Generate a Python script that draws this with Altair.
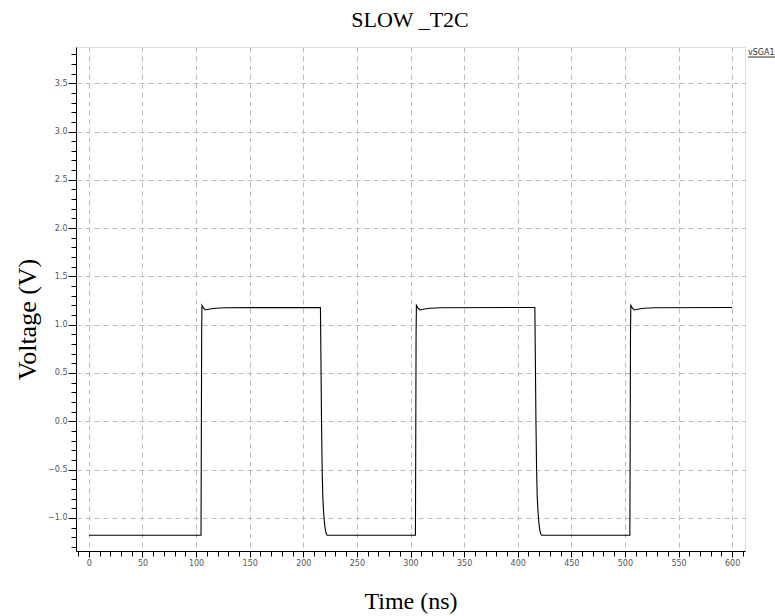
import altair as alt
import pandas as pd

# Waveform samples (time in ns, voltage in V)
time_ns = [0.0, 104.6, 104.9, 105.2, 105.5, 106.0, 107.0, 108.5, 110.0, 113.0, 118.0, 128.0,
           216.0, 216.5, 217.0, 217.6, 218.2, 219.0, 220.0, 221.0, 222.0, 223.0,
           304.6, 304.9, 305.2, 305.5, 306.0, 307.0, 308.5, 310.0, 313.0, 318.0, 328.0,
           416.0, 416.5, 417.0, 417.6, 418.2, 419.0, 420.0, 421.0, 422.0, 423.0,
           504.6, 504.9, 505.2, 505.5, 506.0, 507.0, 508.5, 510.0, 513.0, 518.0, 528.0,
           600.0]
voltage_v = [-1.18, -1.18, -0.20, 0.90, 1.20, 1.19, 1.17, 1.155, 1.155, 1.163, 1.170, 1.176,
             1.178, 0.60, 0.00, -0.50, -0.78, -0.95, -1.08, -1.15, -1.178, -1.18,
             -1.18, -0.20, 0.90, 1.20, 1.19, 1.17, 1.155, 1.155, 1.163, 1.170, 1.176,
             1.178, 0.60, 0.00, -0.50, -0.78, -0.95, -1.08, -1.15, -1.178, -1.18,
             -1.18, -0.20, 0.90, 1.20, 1.19, 1.17, 1.155, 1.155, 1.163, 1.170, 1.176,
             1.178]

x_ticks = list(range(-10, 611, 10))
y_ticks = [round(-1.3 + 0.1 * i, 1) for i in range(52)]

chart_title = ["SLOW _T2C"]
series_name = ["vSGA1"]

df = pd.DataFrame({"t": time_ns, "v": voltage_v, "o": list(range(len(time_ns)))})

is_major_x = "datum.value % 50 === 0"
is_major_y = "abs(datum.value * 2 - round(datum.value * 2)) < 0.001"

x_axis = alt.Axis(
    values=x_ticks,
    title="Time (ns)",
    titleFont="Liberation Serif", titleFontSize=24, titleFontWeight="normal",
    titleColor="#000", titleY=57, titleBaseline="alphabetic",
    labelExpr=f"{is_major_x} ? format(datum.value, 'd') : ''",
    labelFont="DejaVu Sans", labelFontSize=8, labelColor="#555",
    labelOverlap=False, labelFlush=False, labelPadding=2,
    tickSize={"condition": {"test": is_major_x, "value": 6}, "value": 5},
    tickColor="#000", domainColor="#000",
    grid=True, gridColor="#bbbbbb", gridDash=[5, 4],
    gridOpacity={"condition": {"test": f"{is_major_x} && datum.value >= 0", "value": 1}, "value": 0},
)
y_axis = alt.Axis(
    values=y_ticks,
    title="Voltage (V)",
    titleFont="Liberation Serif", titleFontSize=26, titleFontWeight="normal",
    titleColor="#000", titleX=-41, titleY=272, titleBaseline="alphabetic",
    titleAngle=270, titleAlign="center",
    labelExpr=f"{is_major_y} ? format(datum.value, '.1f') : ''",
    labelFont="DejaVu Sans", labelFontSize=8, labelColor="#555",
    labelOverlap=False, labelFlush=False, labelPadding=1,
    tickSize={"condition": {"test": is_major_y, "value": 8}, "value": 5},
    tickColor="#000", domainColor="#000",
    grid=True, gridColor="#bbbbbb", gridDash=[5, 4],
    gridOpacity={"condition": {"test": is_major_y, "value": 1}, "value": 0},
)

line = alt.Chart(df).mark_line(color="#000", strokeWidth=1.1).encode(
    x=alt.X("t:Q", scale=alt.Scale(domain=[-12, 612], nice=False, zero=False), axis=x_axis),
    y=alt.Y("v:Q", scale=alt.Scale(domain=[-1.343, 3.875], nice=False, zero=False), axis=y_axis),
    order="o:Q",
)

title_text = alt.Chart(pd.DataFrame({"s": chart_title})).mark_text(
    align="center", baseline="alphabetic", font="Liberation Serif", fontSize=22, color="#000"
).encode(x=alt.value(334), y=alt.value(-20), text="s:N")

legend_label = alt.Chart(pd.DataFrame({"s": series_name})).mark_text(
    align="left", baseline="alphabetic", font="DejaVu Sans", fontSize=8, color="#333"
).encode(x=alt.value(672), y=alt.value(8), text="s:N")

legend_rule = alt.Chart(pd.DataFrame({"s": series_name})).mark_rule(color="#333", strokeWidth=1).encode(
    x=alt.value(672), x2=alt.value(705), y=alt.value(10)
)

chart = alt.layer(line, title_text, legend_label, legend_rule).properties(
    width=669, height=504,
    autosize=alt.AutoSizeParams(type="none"),
    padding={"left": 76, "top": 47, "right": 30, "bottom": 65},
).configure_view(stroke="#000", strokeWidth=1).configure(background="white")

chart.save("out.html", embed_options={"renderer": "svg", "actions": False})
